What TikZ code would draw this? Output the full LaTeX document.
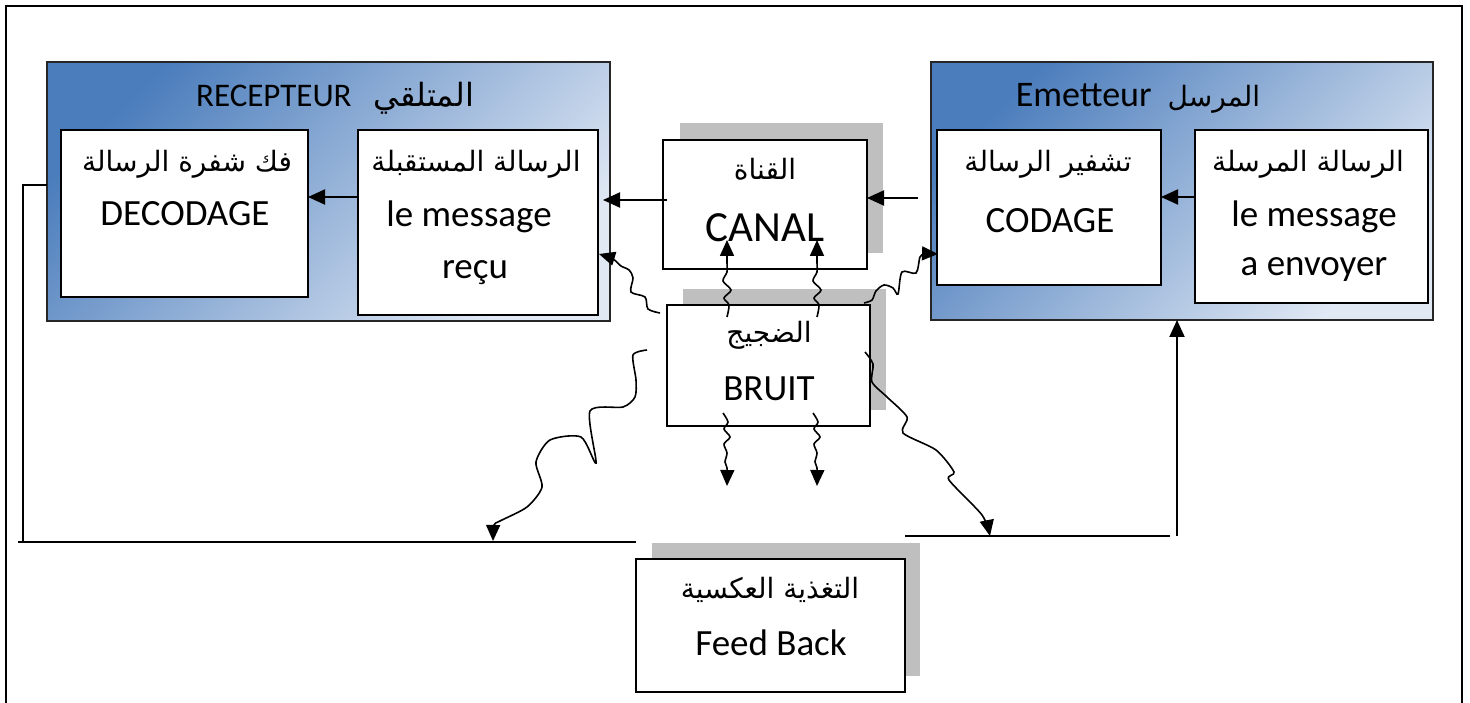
\documentclass[tikz,border=0pt]{standalone}
\usepackage{fontspec}
\setmainfont{Carlito}
\newfontfamily\arfont[Script=Arabic]{DejaVu Sans}
\TeXXeTstate=1
\usetikzlibrary{arrows.meta}
\newcommand\AR[1]{{\arfont\beginR #1\endR}}
\definecolor{bdark}{RGB}{75,125,188}
\definecolor{blight}{RGB}{224,232,244}
\definecolor{shadowgray}{RGB}{191,191,191}
\begin{document}
\begin{tikzpicture}[x=1pt,y=-1pt,
  every node/.style={inner sep=0pt, outer sep=0pt},
  bigbox/.style={rectangle, draw=black!85, line width=1.8pt, top color=bdark, bottom color=blight, shading angle=45},
  ibox/.style={rectangle, draw=black, line width=1.6pt, fill=white},
  shad/.style={rectangle, fill=shadowgray},
  txt/.style={anchor=base, font=\fontsize{37}{42}\selectfont},
  artxt/.style={anchor=base, font=\fontsize{28}{34}\selectfont},
  arr/.style={-{Triangle[length=17pt,width=15pt]}, line width=2pt},
  warr/.style={-{Triangle[length=16pt,width=14pt]}, line width=1.6pt},
  fline/.style={line width=1.7pt},
  frame/.style={line width=2pt}]
\useasboundingbox (0,0) rectangle (1470,703);
% outer frame
\draw[frame] (6,706) -- (6,6) -- (1462,6) -- (1462,706);

% big shaded boxes
\node[bigbox, minimum width=563pt, minimum height=259pt] (recep) at (328.5,191.5) {};
\node[bigbox, minimum width=502pt, minimum height=258pt] (emet) at (1182,191) {};

% inner boxes
\node[ibox, minimum width=247pt, minimum height=167pt] (decod) at (184.5,213.5) {};
\node[ibox, minimum width=240pt, minimum height=185pt] (recu) at (478,222.5) {};
\node[ibox, minimum width=224pt, minimum height=155pt] (codage) at (1049,207.5) {};
\node[ibox, minimum width=233pt, minimum height=173pt] (envoi) at (1311.5,216.5) {};

% shadows and middle boxes
\node[shad, minimum width=203pt, minimum height=130pt] (canalsh) at (781.5,188) {};
\node[ibox, minimum width=204pt, minimum height=129pt] (canal) at (765,204.5) {};
\node[shad, minimum width=203pt, minimum height=121pt] (bruitsh) at (784.5,349.5) {};
\node[ibox, minimum width=203pt, minimum height=121pt] (bruit) at (768.5,365.5) {};
\node[shad, minimum width=268pt, minimum height=133pt] (fbsh) at (786,609.5) {};
\node[ibox, minimum width=269pt, minimum height=133pt] (fb) at (770.5,625.5) {};

% titles
\node[anchor=base, font=\fontsize{33}{38}\selectfont] (trecep) at (335,107) {RECEPTEUR\hspace{22pt}{\fontsize{32}{38}\selectfont\AR{المتلقي}}};
\node[anchor=base, font=\fontsize{36}{40}\selectfont] (temet) at (1138,107) {Emetteur\hspace{16pt}{\fontsize{28}{34}\selectfont\AR{المرسل}}};

% texts
\node[artxt] (tdecod1) at (187,172) {\AR{فك شفرة الرسالة}};
\node[txt] (tdecod2) at (185,226) {DECODAGE};
\node[artxt] (trecu1) at (476,172) {\AR{الرسالة المستقبلة}};
\node[txt] (trecu2) at (469,227) {le message};
\node[txt] (trecu3) at (475,279) {reçu};
\node[artxt] (tcanal1) at (765,180) {\AR{القناة}};
\node[txt, font=\fontsize{43}{48}\selectfont] (tcanal2) at (765,242) {CANAL};
\node[artxt] (tbruit1) at (769,343) {\AR{الضجيج}};
\node[txt] (tbruit2) at (769,400) {BRUIT};
\node[artxt] (tcod1) at (1048,172) {\AR{تشفير الرسالة}};
\node[txt] (tcod2) at (1050,233) {CODAGE};
\node[artxt] (tenv1) at (1308,172) {\AR{الرسالة المرسلة}};
\node[txt] (tenv2) at (1314,227) {le message};
\node[txt] (tenv3) at (1314,276) {a envoyer};
\node[artxt] (tfb1) at (770,598) {\AR{التغذية العكسية}};
\node[txt] (tfb2) at (771,655) {Feed Back};

% straight arrows
\coordinate (a1s) at (358,197);
\draw[arr] (a1s) -- (decod.east |- a1s);
\coordinate (a2s) at (667,200);
\coordinate (a2e) at (603,200);
\draw[arr] (a2s) -- (a2e);
\coordinate (a3s) at (918,198);
\draw[arr] (a3s) -- (canal.east |- a3s);
\coordinate (a4s) at (1195,197);
\draw[arr] (a4s) -- (codage.east |- a4s);

% feedback lines
\coordinate (fl1) at (23,185);
\coordinate (fl2) at (23,542);
\draw[fline] (recep.west |- fl1) -- (fl1) -- (fl2);
\coordinate (fl3) at (18,542);
\coordinate (fl4) at (636,542);
\draw[fline] (fl3) -- (fl4);
\coordinate (fr1) at (905,536);
\coordinate (fr2) at (1170,536);
\draw[fline] (fr1) -- (fr2);
\coordinate (fr3) at (1177,536);
\draw[arr] (fr3) -- (fr3 |- emet.south);

% wavy noise arrows
\coordinate (w1s) at (727,317); \coordinate (w1e) at (727,240);
\draw[warr] plot[smooth, tension=0.5] coordinates {(w1s) (729,305) (724,298) (731,290) (723,281) (727,272) (727,262) (w1e)};
\coordinate (w2s) at (817,317); \coordinate (w2e) at (817,240);
\draw[warr] plot[smooth, tension=0.5] coordinates {(w2s) (819,305) (814,298) (821,290) (813,281) (817,272) (817,262) (w2e)};
\coordinate (w3s) at (660,313); \coordinate (w3e) at (599,254);
\draw[warr] plot[smooth, tension=0.5] coordinates {(w3s) (648,309) (645,297) (631,292) (633,278) (629,270) (621,266) (613,259) (w3e)};
\coordinate (w4s) at (864,303); \coordinate (w4e) at (938,254);
\draw[warr] plot[smooth, tension=0.5] coordinates {(w4s) (872,300) (876,291) (884,285) (893,288) (898,294) (902,272) (916,273) (920,257) (925,254) (w4e)};
\coordinate (w5s) at (647,350); \coordinate (w5e) at (493,541);
\draw[warr] plot[smooth, tension=0.45] coordinates {(w5s) (633,355) (636,380) (635,397) (623,407) (590,411) (596,463) (581,437) (550,440) (536,462) (542,487) (527,507) (500,521) (494,525) (w5e)};
\coordinate (w6s) at (865,352); \coordinate (w6e) at (990,536);
\draw[warr] plot[smooth, tension=0.45] coordinates {(w6s) (873,364) (872,382) (887,397) (907,417) (903,433) (936,450) (954,472) (949,480) (982,515) (w6e)};
\coordinate (w7s) at (723,413); \coordinate (w7e) at (727,486);
\draw[warr] plot[smooth, tension=0.5] coordinates {(w7s) (728,422) (724,429) (730,437) (724,444) (727,453) (725,462) (727,468) (w7e)};
\coordinate (w8s) at (813,413); \coordinate (w8e) at (817,486);
\draw[warr] plot[smooth, tension=0.5] coordinates {(w8s) (818,422) (814,429) (820,437) (814,444) (817,453) (815,462) (817,468) (w8e)};
\end{tikzpicture}
\end{document}
